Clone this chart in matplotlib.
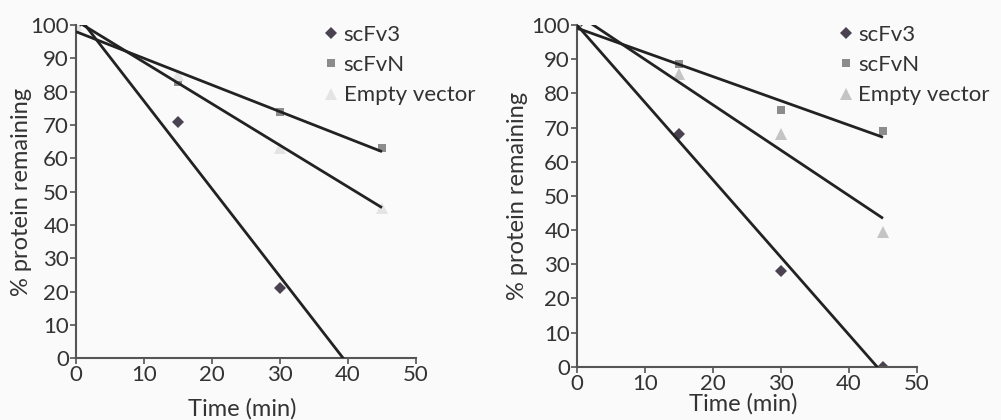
import numpy as np
import matplotlib
matplotlib.use("Agg")
import matplotlib.pyplot as plt

plt.rcParams['font.family'] = ['Lato', 'DejaVu Sans']

time_min = [0, 15, 30, 45]
series_names = ["scFv3", "scFvN", "Empty vector"]

# Panel A (left)
left_scfv3_t = [0, 15, 30]
left_scfv3 = [100, 71, 21]
left_scfvn = [100, 83, 74, 63]
left_empty = [100, 85, 63, 45]

# Panel B (right)
right_scfv3 = [100, 68, 28, 0]
right_scfvn = [100, 88.5, 75, 69]
right_empty = [100, 85.6, 68.2, 39.4]

x_ticks = [0, 10, 20, 30, 40, 50]
y_ticks = list(range(0, 101, 10))

fig = plt.figure(figsize=(10.01, 4.2), dpi=100)
fig.patch.set_facecolor("#fafafa")

ax_l = fig.add_axes([0.0759, 0.1469, 0.3397, 0.7936])
ax_r = fig.add_axes([0.5764, 0.1269, 0.3397, 0.8136])

styles = {
    "scFv3": dict(marker="D", color="#4a4250", ms=6),
    "scFvN": dict(marker="s", color="#8c8c8c", ms=6),
    "Empty vector": dict(marker="^", color="#c9c9c9", ms=8),
}


def draw_panel(ax, data, empty_color, legend_xy, ylabel_x, xlabel_y):
    ax.set_facecolor("#fafafa")
    handles = []
    for name, (t, y) in zip(series_names, data):
        st = dict(styles[name])
        if name == "Empty vector":
            st["color"] = empty_color
        h, = ax.plot(t, y, linestyle="none", marker=st["marker"], color=st["color"],
                     markersize=st["ms"], markeredgewidth=0, zorder=2, label=name)
        handles.append(h)
        # linear trend line over the sampled time range
        k, b = np.polyfit(t, y, 1)
        xs = np.array([0, 45])
        ax.plot(xs, k * xs + b, color="#222222", lw=2.0, zorder=3,
                solid_capstyle="butt")
    ax.set_xlim(0, 50)
    ax.set_ylim(0, 100)
    ax.set_xticks(x_ticks)
    ax.set_yticks(y_ticks)
    for side in ("top", "right"):
        ax.spines[side].set_visible(False)
    for side in ("left", "bottom"):
        ax.spines[side].set_color("#555555")
        ax.spines[side].set_linewidth(1.5)
    ax.tick_params(direction="out", length=4, width=1.2, color="#555555",
                   labelsize=16, labelcolor="#333333", pad=1)
    ax.set_xlabel("Time (min)", fontsize=17, color="#333333")
    ax.set_ylabel("% protein remaining", fontsize=17, color="#333333")
    ax.yaxis.set_label_coords(ylabel_x, 0.5)
    ax.xaxis.set_label_coords(0.49, xlabel_y)
    ax.legend(handles=handles, loc="upper left", bbox_to_anchor=legend_xy,
              frameon=False, fontsize=16, handlelength=0.8, handletextpad=0.15,
              labelspacing=0.46, borderpad=0, borderaxespad=0, labelcolor="#333333")


draw_panel(ax_l,
           [(left_scfv3_t, left_scfv3), (time_min, left_scfvn), (time_min, left_empty)],
           "#e4e4e4", (0.725, 1.0), -0.13, -0.119)
draw_panel(ax_r,
           [(time_min, right_scfv3), (time_min, right_scfvn), (time_min, right_empty)],
           "#c4c4c4", (0.764, 1.0), -0.144, -0.077)

fig.savefig("out.png", dpi=100, facecolor=fig.get_facecolor())
